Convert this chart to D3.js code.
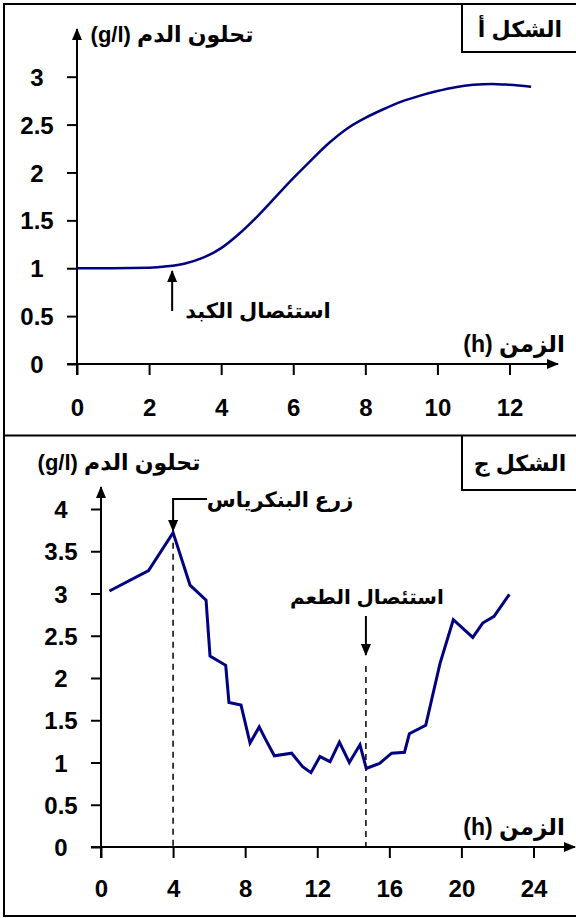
<!DOCTYPE html>
<html>
<head>
<meta charset="utf-8">
<script src="https://cdn.jsdelivr.net/npm/d3@7/dist/d3.min.js"></script>
<style>
body { margin: 0; background: #fff; }
svg text { font-family: "Liberation Sans", Arial, "DejaVu Sans", sans-serif; font-weight: bold; fill: #000; }
</style>
</head>
<body>
<div id="chart"></div>
<script>
// figure A : blood glucose after liver removal
var hoursA = [0, 1, 2, 2.5, 3, 3.5, 4, 4.5, 5, 5.5, 6, 6.5, 7, 7.5, 8, 8.5, 9, 9.5, 10, 10.5, 11, 11.5, 12, 12.6];
var glucoseA = [1.0, 1.0, 1.005, 1.02, 1.05, 1.11, 1.21, 1.36, 1.54, 1.74, 1.94, 2.13, 2.31, 2.46, 2.57, 2.66, 2.74, 2.8, 2.85, 2.89, 2.915, 2.925, 2.915, 2.895];
var ticksAx = [0, 2, 4, 6, 8, 10, 12];
var ticksAy = [0, 0.5, 1, 1.5, 2, 2.5, 3];
var eventA = 2.64;

// figure C : pancreas graft then graft removal
var hoursC = [0.47, 2.64, 4.0, 4.94, 5.83, 6.05, 6.92, 7.1, 7.77, 8.27, 8.78, 9.14, 9.62, 10.58, 11.19, 11.65, 12.15, 12.71, 13.23, 13.78, 14.37, 14.72, 15.46, 16.13, 16.84, 17.11, 18.02, 18.81, 19.55, 20.63, 21.18, 21.81, 22.66];
var glucoseC = [3.03, 3.27, 3.72, 3.1, 2.92, 2.26, 2.15, 1.71, 1.68, 1.23, 1.42, 1.27, 1.08, 1.11, 0.95, 0.88, 1.07, 1.01, 1.24, 1.0, 1.21, 0.93, 0.99, 1.11, 1.12, 1.34, 1.44, 2.17, 2.69, 2.48, 2.65, 2.73, 2.99];
var ticksCx = [0, 4, 8, 12, 16, 20, 24];
var ticksCy = [0, 0.5, 1, 1.5, 2, 2.5, 3, 3.5, 4];
var eventsC = [4, 14.7];

var yTitle = "تحلون الدم (g/l)";
var xTitle = "الزمن (h)";
var figNames = ["الشكل أ", "الشكل ج"];
var notesA = ["استئصال الكبد"];
var notesC = ["زرع البنكرياس", "استئصال الطعم"];

var width = 576, height = 918;
var lineColor = "#000080";

var svg = d3.select("#chart").append("svg")
  .attr("width", width)
  .attr("height", height);

svg.append("defs").append("marker")
  .attr("id", "arrow")
  .attr("viewBox", "0 0 12 10")
  .attr("refX", 11).attr("refY", 5)
  .attr("markerWidth", 12).attr("markerHeight", 10)
  .attr("markerUnits", "userSpaceOnUse")
  .attr("orient", "auto")
  .append("path")
    .attr("d", "M0,0 L12,5 L0,10 Z")
    .attr("fill", "#000");

// frames
svg.append("rect")
  .attr("x", 4).attr("y", 4)
  .attr("width", 580).attr("height", 912)
  .attr("fill", "none").attr("stroke", "#000").attr("stroke-width", 2);
svg.append("line")
  .attr("x1", 4).attr("x2", 576).attr("y1", 435.5).attr("y2", 435.5)
  .attr("stroke", "#000").attr("stroke-width", 2);

function nameBox(top, bottom, label, baseline) {
  svg.append("path")
    .attr("d", "M462," + top + " L462," + bottom + " L576," + bottom)
    .attr("fill", "none").attr("stroke", "#000").attr("stroke-width", 2);
  svg.append("text")
    .attr("x", 520).attr("y", baseline)
    .attr("text-anchor", "middle")
    .attr("direction", "rtl")
    .style("font-size", "22px")
    .text(label);
}
nameBox(4, 52, figNames[0], 37);
nameBox(435, 490, figNames[1], 471);

function drawAxes(x, y, xt, yt, xEnd, yEnd, xLabY) {
  var x0 = x(0), y0 = y(0);

  var gx = svg.append("g")
    .attr("transform", "translate(0," + y0 + ")")
    .call(d3.axisBottom(x).tickValues(xt).tickSize(11).tickFormat(d3.format("d")));
  gx.select(".domain").remove();
  gx.selectAll(".tick line").attr("stroke", "#000").attr("stroke-width", 2);
  gx.selectAll(".tick text")
    .attr("y", xLabY).attr("dy", 0)
    .style("font-size", "24px");

  var gy = svg.append("g")
    .attr("transform", "translate(" + x0 + ",0)")
    .call(d3.axisLeft(y).tickValues(yt).tickSize(10).tickFormat(function(d) { return d; }));
  gy.select(".domain").remove();
  gy.selectAll(".tick line").attr("stroke", "#000").attr("stroke-width", 2);
  gy.selectAll(".tick text")
    .attr("x", -40).attr("dy", "0.36em")
    .attr("text-anchor", "middle")
    .style("font-size", "24px");

  svg.append("line")
    .attr("x1", x0 - 10).attr("x2", xEnd)
    .attr("y1", y0).attr("y2", y0)
    .attr("stroke", "#000").attr("stroke-width", 2)
    .attr("marker-end", "url(#arrow)");
  svg.append("line")
    .attr("x1", x0).attr("x2", x0)
    .attr("y1", y0 + 11).attr("y2", yEnd)
    .attr("stroke", "#000").attr("stroke-width", 2)
    .attr("marker-end", "url(#arrow)");
}

function solidArrow(x1, y1, x2, y2) {
  svg.append("line")
    .attr("x1", x1).attr("y1", y1).attr("x2", x2).attr("y2", y2)
    .attr("stroke", "#000").attr("stroke-width", 2)
    .attr("marker-end", "url(#arrow)");
}

function note(txt, cx, base, size) {
  svg.append("text")
    .attr("x", cx).attr("y", base)
    .attr("text-anchor", "middle")
    .attr("direction", "rtl")
    .style("font-size", size + "px")
    .text(txt);
}

// ---- figure A ----
var xA = d3.scaleLinear().domain([0, 12]).range([77, 509.5]);
var yA = d3.scaleLinear().domain([0, 3]).range([364, 76.7]);

drawAxes(xA, yA, ticksAx, ticksAy, 558, 29, 52);

note(yTitle, 172, 42, 22);
note(xTitle, 514, 352, 23);

var lineA = d3.line()
  .x(function(d, i) { return xA(hoursA[i]); })
  .y(function(d) { return yA(d); })
  .curve(d3.curveMonotoneX);

svg.append("path")
  .datum(glucoseA)
  .attr("d", lineA)
  .attr("fill", "none")
  .attr("stroke", lineColor)
  .attr("stroke-width", 2.5);

solidArrow(xA(eventA), 311, xA(eventA), 271);
note(notesA[0], 258, 318, 21);

// ---- figure C ----
var xC = d3.scaleLinear().domain([0, 24]).range([101, 533.5]);
var yC = d3.scaleLinear().domain([0, 4]).range([847, 509]);

drawAxes(xC, yC, ticksCx, ticksCy, 575, 487, 50);

note(yTitle, 119, 470, 22);
note(xTitle, 514, 835, 23);

// dashed markers for the two events
svg.append("line")
  .attr("x1", xC(eventsC[0])).attr("x2", xC(eventsC[0]))
  .attr("y1", yC(3.6)).attr("y2", yC(0))
  .attr("stroke", "#000").attr("stroke-width", 1.5)
  .attr("stroke-dasharray", "6,5");
svg.append("line")
  .attr("x1", xC(eventsC[1])).attr("x2", xC(eventsC[1]))
  .attr("y1", 666).attr("y2", yC(0))
  .attr("stroke", "#000").attr("stroke-width", 1.5)
  .attr("stroke-dasharray", "6,5");

var lineC = d3.line()
  .x(function(d, i) { return xC(hoursC[i]); })
  .y(function(d) { return yC(d); });

svg.append("path")
  .datum(glucoseC)
  .attr("d", lineC)
  .attr("fill", "none")
  .attr("stroke", lineColor)
  .attr("stroke-width", 3)
  .attr("stroke-linejoin", "miter");

// pancreas graft: bent arrow
svg.append("path")
  .attr("d", "M207,499 L" + xC(eventsC[0]) + ",499 L" + xC(eventsC[0]) + ",531")
  .attr("fill", "none").attr("stroke", "#000").attr("stroke-width", 2)
  .attr("marker-end", "url(#arrow)");
note(notesC[0], 280, 507, 21);

// graft removal arrow
solidArrow(xC(eventsC[1]), 616, xC(eventsC[1]), 655);
note(notesC[1], 367, 604, 20);
</script>
</body>
</html>
